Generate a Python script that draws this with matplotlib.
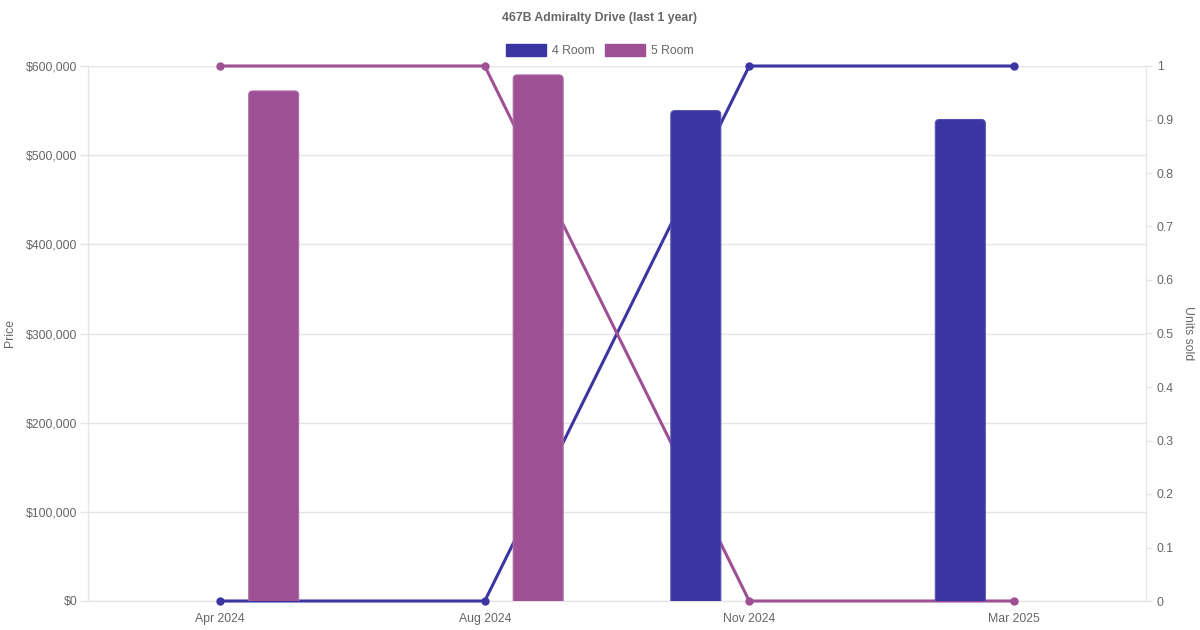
import matplotlib.pyplot as plt
import numpy as np
from matplotlib.patches import Rectangle, FancyBboxPatch
from matplotlib.ticker import FuncFormatter, MultipleLocator

# dados do gráfico
meses = ['Apr 2024', 'Aug 2024', 'Nov 2024', 'Mar 2025']
preco_4room = [0, 0, 550000, 540000]
preco_5room = [572000, 590000, 0, 0]
vendidos_4room = [0, 0, 1, 1]
vendidos_5room = [1, 1, 0, 0]

cor_4 = '#3a35a0'
cor_5 = '#9e5094'
cinza = '#666666'
grade = '#e5e5e5'

plt.rcParams['font.family'] = ['Liberation Sans', 'DejaVu Sans']

fig = plt.figure(figsize=(12, 6.3), dpi=100)
pos = [88 / 1200, 29 / 630, 1058 / 1200, 535 / 630]
ax = fig.add_axes(pos)          # grade, eixo esquerdo
ax2 = ax.twinx()                # linhas, eixo direito
ax3 = fig.add_axes(pos, sharex=ax, sharey=ax)  # barras por cima
ax3.set_zorder(ax2.get_zorder() + 1)
ax3.patch.set_visible(False)
ax3.axis('off')

x = np.arange(len(meses))
largura = 0.189
desloc = 0.202

# linhas (eixo da direita)
ax2.plot(x, vendidos_4room, color=cor_4, lw=2.2, marker='o', ms=5, clip_on=False, zorder=3)
ax2.plot(x, vendidos_5room, color=cor_5, lw=2.2, marker='o', ms=5, clip_on=False, zorder=3)

# barras com cantos arredondados
px_x = 1 / 264.7
px_y = 600000 / 535
for serie, off, cor, borda in [(preco_4room, -desloc, cor_4, '#5551b3'),
                               (preco_5room, desloc, cor_5, '#b070a8')]:
    for xi, v in zip(x, serie):
        if v <= 0:
            continue
        extra = 10 * px_y
        p = FancyBboxPatch((xi + off - largura / 2, -extra), largura, v + extra,
                           boxstyle=f'round,pad=0,rounding_size={4 * px_x}',
                           mutation_aspect=px_y / px_x,
                           facecolor=cor, edgecolor=borda, lw=0.8)
        ax3.add_patch(p)

ax.set_xlim(-0.5, 3.5)
ax.set_ylim(0, 600000)
ax2.set_ylim(0, 1)

ax.yaxis.set_major_locator(MultipleLocator(100000))
ax.yaxis.set_major_formatter(FuncFormatter(lambda v, p: f'${v:,.0f}'))
ax2.yaxis.set_major_locator(MultipleLocator(0.1))
ax2.yaxis.set_major_formatter(FuncFormatter(lambda v, p: f'{v:.1f}'.rstrip('0').rstrip('.') if v else '0'))

ax.set_xticks(x)
ax.set_xticklabels(meses)
ax.grid(axis='y', color=grade, lw=1, zorder=0)
ax.set_axisbelow(True)

for a in (ax, ax2):
    for s in a.spines.values():
        s.set_color(grade)
    a.spines['top'].set_visible(False)
    a.tick_params(colors=grade, labelcolor=cinza, labelsize=8.8, width=1)
ax.spines['bottom'].set_color('#cccccc')
ax.tick_params(axis='x', length=0, pad=8.5)
ax.tick_params(axis='y', length=5.8, pad=2)
ax2.tick_params(axis='y', length=4.3, pad=3.6)

fig.text(10 / 1200, 1 - 333 / 630, 'Price', rotation=90, ha='center', va='center',
         fontsize=8.8, color=cinza)
fig.text(1188 / 1200, 1 - 333 / 630, 'Units sold', rotation=270, ha='center', va='center',
         fontsize=8.8, color=cinza)

fig.text(0.5, 1 - 18.5 / 630, '467B Admiralty Drive (last 1 year)', ha='center', va='center',
         fontsize=8.8, fontweight='bold', color=cinza)

# legenda manual
for x0, cor, nome in [(506, cor_4, '4 Room'), (605, cor_5, '5 Room')]:
    fig.patches.append(Rectangle((x0 / 1200, 1 - 56 / 630), 40 / 1200, 12 / 630,
                                 transform=fig.transFigure, color=cor))
    fig.text((x0 + 46) / 1200, 1 - 51.5 / 630, nome, ha='left', va='center', fontsize=8.8, color=cinza)

fig.savefig('out.png', dpi=100)
